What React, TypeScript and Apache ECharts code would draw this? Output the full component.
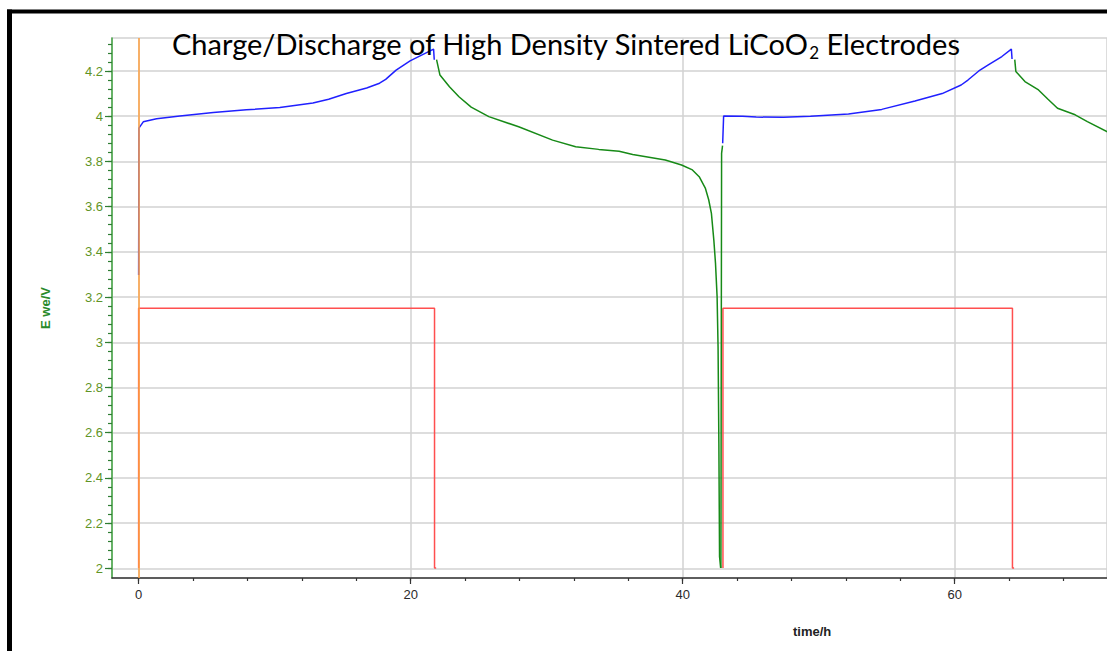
import React, { useEffect, useRef } from "react";
import * as echarts from "echarts";

// ---- data (time in h, potential in V) ----
const charge1: number[][] = [
  [0, 3.297], [0.02, 3.947], [0.34, 3.975], [1.32, 3.989], [3.04, 4.001], [5.5, 4.016],
  [7.94, 4.028], [10.4, 4.038], [12.84, 4.058], [14.0, 4.075], [15.3, 4.1], [16.8, 4.125],
  [17.75, 4.146], [18.2, 4.163], [18.97, 4.204], [20.0, 4.245], [21.4, 4.287], [21.73, 4.297],
  [21.78, 4.25],
];
const discharge1: number[][] = [
  [21.95, 4.25], [22.2, 4.182], [22.9, 4.13], [23.6, 4.086], [24.5, 4.04], [25.8, 3.998],
  [28.0, 3.953], [30.5, 3.894], [32.2, 3.865], [33.9, 3.853], [35.4, 3.845], [36.4, 3.83],
  [38.8, 3.806], [40.0, 3.784], [40.8, 3.762], [41.3, 3.732], [41.76, 3.68], [42.0, 3.63],
  [42.2, 3.57], [42.38, 3.45], [42.5, 3.35], [42.62, 3.2], [42.69, 2.98], [42.75, 2.55],
  [42.8, 2.05], [42.88, 2.0],
];
const rest1: number[][] = [[42.9, 2.0], [42.95, 3.835], [43.02, 3.87]];
const charge2: number[][] = [
  [43.03, 3.88], [43.1, 4.001], [44.5, 4.0], [45.5, 3.996], [47.5, 3.995], [49.5, 4.0],
  [52.3, 4.01], [54.75, 4.03], [57.2, 4.067], [59.2, 4.1], [60.6, 4.138], [61.1, 4.16],
  [61.9, 4.2], [62.6, 4.227], [63.6, 4.264], [64.3, 4.297], [64.35, 4.253],
];
const discharge2: number[][] = [
  [64.55, 4.25], [64.63, 4.198], [65.3, 4.153], [66.3, 4.116], [67.0, 4.075], [67.7, 4.035],
  [69.0, 4.006], [69.9, 3.976], [71.4, 3.93],
];
const current1: number[][] = [[0, 2.0], [0, 3.15], [21.8, 3.15], [21.8, 2.0], [21.92, 2.0]];
const current2: number[][] = [[43.05, 2.0], [43.05, 3.15], [64.38, 3.15], [64.38, 2.0], [64.5, 2.0]];

const xTickMajor = 20;
const xTickMinor = 4;
const yTickMajor = 0.2;
const yTickMinor = 0.04;

const titleText = "Charge/Discharge of High Density Sintered LiCoO{sub|2} Electrodes";
const yName = "E we/V";
const xName = "time/h";

const BLUE = "#2020ff";
const GREEN = "#178a17";
const RED = "#ff4f4f";
const ORANGE = "#ffa040";
const GRIDC = "#d2d2d2";

export default function App() {
  const ref = useRef<HTMLDivElement>(null);
  useEffect(() => {
    if (!ref.current) return;
    const chart = echarts.init(ref.current, undefined, { renderer: "svg" });
    const lineSeries = (name: string, data: number[][], color: string) => ({
      name,
      type: "line",
      xAxisIndex: 0,
      yAxisIndex: 0,
      data,
      showSymbol: false,
      symbol: "none",
      lineStyle: { color, width: 1.5 },
      itemStyle: { color },
      z: 3,
    });
    const hidden = { show: false };
    chart.setOption({
      animation: false,
      backgroundColor: "#fff",
      title: {
        text: titleText,
        left: 167,
        top: 20,
        textStyle: {
          fontFamily: "Lato",
          fontSize: 29,
          fontWeight: "normal",
          color: "#000",
          lineHeight: 36,
          rich: {
            sub: { fontFamily: "Lato", fontSize: 17, lineHeight: 20, verticalAlign: "bottom", color: "#000" },
          },
        },
      },
      grid: [
        { left: 112, right: -2, top: 38, bottom: 73, show: true, borderColor: GRIDC, borderWidth: 1.5, backgroundColor: "transparent" },
        { left: 138.7, right: 152.3, top: 38, bottom: 73 },
        { left: 138.7, right: 43.5, top: 38, bottom: 73 },
        { left: 112, right: -2, top: 71, bottom: 82.7 },
        { left: 112, right: -2, top: 43.9, bottom: 82.7 },
      ],
      xAxis: [
        {
          type: "value", gridIndex: 0, min: -1.963, max: 71.346,
          axisLine: { show: true, onZero: false, lineStyle: { color: "#333", width: 1.5 } },
          axisTick: hidden, axisLabel: hidden, splitLine: hidden,
        },
        {
          type: "value", gridIndex: 1, min: 0, max: 60, interval: xTickMajor,
          axisLine: hidden,
          axisTick: { show: true, length: 6, lineStyle: { color: "#333", width: 1.2 } },
          axisLabel: { show: true, margin: 10, fontFamily: "Liberation Sans", fontSize: 13, color: "#2a2a2a" },
          splitLine: { show: true, lineStyle: { color: GRIDC, width: 1.5 } },
        },
        {
          type: "value", gridIndex: 2, min: 0, max: 68, interval: xTickMinor,
          axisLine: hidden,
          axisTick: { show: true, length: 3, lineStyle: { color: "#333", width: 1.2 } },
          axisLabel: hidden, splitLine: hidden,
        },
        { type: "value", gridIndex: 3, min: 0, max: 1, show: false },
        { type: "value", gridIndex: 4, min: 0, max: 1, show: false },
      ],
      yAxis: [
        {
          type: "value", gridIndex: 0, min: 1.9558, max: 4.346,
          axisLine: { show: true, onZero: false, lineStyle: { color: "#3fa33f", width: 1.5 } },
          axisTick: hidden, axisLabel: hidden, splitLine: hidden,
          name: yName, nameLocation: "middle", nameGap: 60, nameRotate: 90,
          nameTextStyle: { fontFamily: "Liberation Sans", fontSize: 13, fontWeight: "bold", color: "#2a8a2a" },
        },
        { type: "value", gridIndex: 1, min: 0, max: 1, show: false },
        { type: "value", gridIndex: 2, min: 0, max: 1, show: false },
        {
          type: "value", gridIndex: 3, min: 2, max: 4.2, interval: yTickMajor,
          axisLine: hidden,
          axisTick: { show: true, length: 7, lineStyle: { color: "#2e7d32", width: 1.2 } },
          axisLabel: { show: true, margin: 9, fontFamily: "Liberation Sans", fontSize: 13, color: "#5f9426" },
          splitLine: { show: true, lineStyle: { color: GRIDC, width: 1.5 } },
        },
        {
          type: "value", gridIndex: 4, min: 2, max: 4.32, interval: yTickMinor,
          axisLine: hidden,
          axisTick: { show: true, length: 4, lineStyle: { color: "#2e7d32", width: 1.2 } },
          axisLabel: hidden, splitLine: hidden,
        },
      ],
      graphic: [
        { type: "rect", shape: { x: 7, y: 9.5, width: 1100, height: 4 }, style: { fill: "#000" }, z: 100 },
        { type: "rect", shape: { x: 7, y: 9.5, width: 5, height: 642 }, style: { fill: "#000" }, z: 100 },
        {
          type: "text", left: 793, top: 625,
          style: { text: xName, font: "bold 13px 'Liberation Sans'", fill: "#222" },
        },
      ],
      series: [
        {
          name: "cursor", type: "line", xAxisIndex: 0, yAxisIndex: 0, data: [], z: 1,
          markLine: {
            silent: true, symbol: ["none", "none"], label: { show: false },
            lineStyle: { color: ORANGE, width: 1.5, type: "solid" },
            data: [{ xAxis: 0 }],
          },
        },
        lineSeries("current1", current1, RED),
        lineSeries("current2", current2, RED),
        lineSeries("discharge1", discharge1, GREEN),
        lineSeries("rest1", rest1, GREEN),
        lineSeries("discharge2", discharge2, GREEN),
        lineSeries("charge1", charge1, BLUE),
        lineSeries("charge2", charge2, BLUE),
      ],
    });
    return () => chart.dispose();
  }, []);
  return (
    <div style={{ position: "fixed", left: 0, top: 0, width: 1107, height: 651, overflow: "hidden", background: "#fff" }}>
      <div ref={ref} style={{ width: 1107, height: 651 }} />
    </div>
  );
}
